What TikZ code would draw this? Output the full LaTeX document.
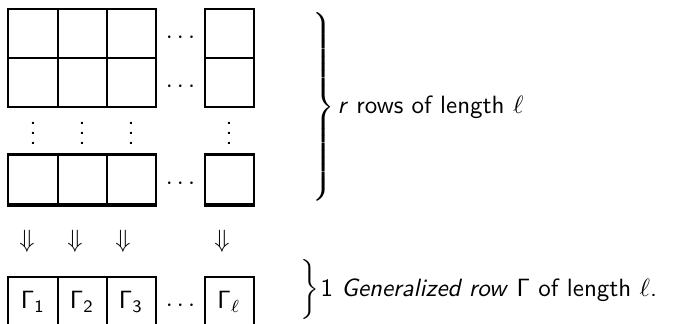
\documentclass[tikz,border=0pt]{standalone}
\usepackage{graphicx}
% sans-serif upright Greek and digits in math
\SetSymbolFont{operators}{normal}{OT1}{cmss}{m}{n}
\tikzset{
  cell/.style={draw, line width=0.8pt, minimum width=19.6pt, minimum height=19.6pt,
    inner sep=0pt, font=\sffamily},
  thickrule/.style={line width=1.2pt},
  label/.style={font=\sffamily, inner sep=0pt},
}
\begin{document}
\begin{tikzpicture}[x=0.4pt, y=-0.4pt]
  \useasboundingbox (0,0) rectangle (686,324);
  \clip (0,0) rectangle (686,324);

  % the r rows: two top rows and the last one
  \foreach \c/\x in {1/33, 2/82, 3/131, 4/229} {
    \node[cell] (a\c) at (\x,33.5) {};
    \node[cell] (b\c) at (\x,82.5) {};
    \node[cell] (z\c) at (\x,180) {};
  }
  \draw[thickrule] (z1.north west) -- (z3.north east);
  \draw[thickrule] (z1.south west) -- (z3.south east);
  \draw[thickrule] (z4.north west) -- (z4.north east);
  \draw[thickrule] (z4.south west) -- (z4.south east);

  % horizontal ellipses between the third and the last column
  \node[label] (ha) at (180.5,38) {$\cdots$};
  \node[label] (hb) at (180.5,87) {$\cdots$};
  \node[label] (hz) at (180.5,184) {$\cdots$};

  % vertical ellipses between the rows
  \foreach \c/\x in {1/33, 2/82, 3/131, 4/229}
    \node[label] (v\c) at (\x,126) {$\vdots$};

  % arrows down to the generalized row
  \foreach \c/\x in {1/27, 2/75, 3/123, 4/222}
    \node[label] (d\c) at (\x,241) {$\Downarrow$};

  % the generalized row
  \node[cell] (g1) at (33,301.5) {$\Gamma_1$};
  \node[cell] (g2) at (82,301.5) {$\Gamma_2$};
  \node[cell] (g3) at (131,301.5) {$\Gamma_3$};
  \node[cell] (g4) at (229,301.5) {$\Gamma_\ell$};
  \node[label] (hg) at (180.5,306) {$\cdots$};

  % braces and their labels
  \node[label, anchor=west] (br1) at (309,107)
    {\scalebox{1}[0.965]{$\delimitershortfall=0pt\left.\vcenter{\hrule height 38pt depth 38pt width 0pt}\right\}$}};
  \node[label, anchor=west] (t1) at (337,107) {\textit{r} rows of length $\ell$};
  \node[label, anchor=west] (br2) at (300,289.5) {$\bigg\}$};
  \node[label, anchor=west] (t2) at (320,290)
    {1 \textit{Generalized row} $\Gamma$ of length $\ell$.};
\end{tikzpicture}
\end{document}
